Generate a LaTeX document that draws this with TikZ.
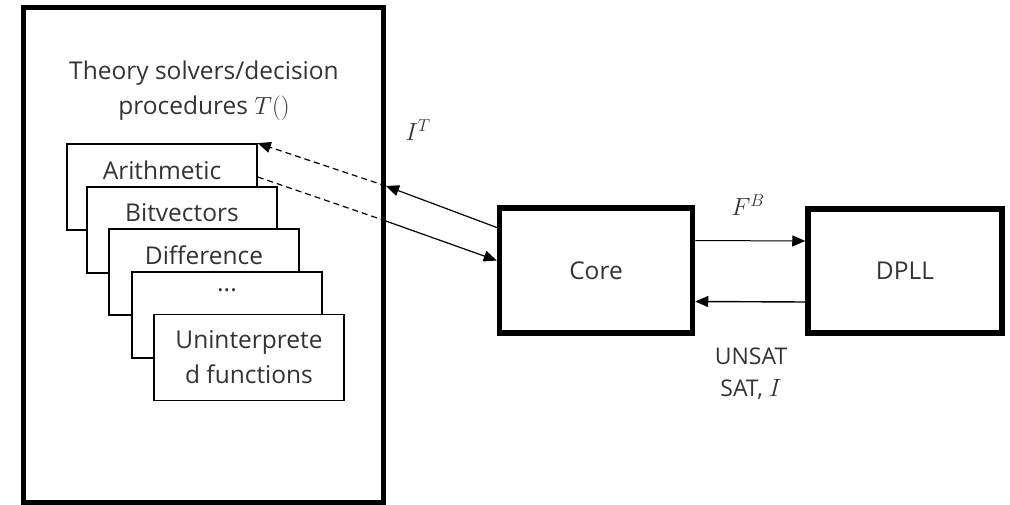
\documentclass[tikz,border=0pt]{standalone}
\usepackage{fontspec}
\setmainfont{Open Sans}
\usetikzlibrary{arrows.meta,positioning}

\tikzset{
	bigbox/.style={draw, line width=5pt, inner sep=0pt},
	stackbox/.style={draw, fill=white, line width=1.6pt, minimum width=190pt, minimum height=86pt, inner sep=0pt},
	stacklabel/.style={anchor=north, yshift=-14pt, font=\fontsize{24.5}{30}\selectfont, text=black!80},
	flow/.style={-{Triangle[length=13pt,width=11pt]}, line width=1.2pt},
	txt/.style={font=\fontsize{24.5}{35}\selectfont, text=black!80, align=center}
}

\begin{document}
\begin{tikzpicture}[x=1pt, y=-1pt]
	\useasboundingbox (0,0) rectangle (1010,505);
	% Container of the theory solvers
	\node[bigbox, minimum width=360pt, minimum height=494pt] at (203,255) (solvers) {};
	\node[txt] at (204,91) (title) {Theory solvers/decision\\procedures $T()$};
	% Stack of solvers
	\node[stackbox, label={[stacklabel]north:Arithmetic}] at (162,187) (arith) {};
	\node[stackbox, label={[stacklabel]north:Bitvectors}] at (182,230) (bitvec) {};
	\node[stackbox, label={[stacklabel]north:Difference}] at (204,272) (diff) {};
	\node[stackbox, label={[stacklabel]north:...}] at (227,315) (dots) {};
	\node[stackbox, txt] at (249,357.5) (uninterp) {Uninterprete\\d functions};
	% Core and DPLL
	\node[bigbox, line width=5.5pt, minimum width=193pt, minimum height=125pt, txt] at (596,270.5) (core) {Core};
	\node[bigbox, line width=5.5pt, minimum width=194pt, minimum height=124pt, txt] at (905,271) (dpll) {DPLL};
	% Crossing points on the container
	\coordinate (edgeIn) at (386,186);
	\coordinate (edgeOut) at (383,220);
	% Connectors
	\draw[flow] ([yshift=43pt]core.west) -- (edgeIn);
	\draw[flow, dashed, dash pattern=on 6pt off 4pt] (edgeIn) -- (arith.north east);
	\draw[line width=1.2pt, dash pattern=on 6pt off 4pt] ([yshift=10pt]arith.east) -- (edgeOut);
	\draw[flow] (edgeOut) -- ([yshift=10pt]core.west);
	\draw[flow, line width=1pt] ([yshift=30pt]core.east) -- ([yshift=30pt]dpll.west);
	\draw[flow, line width=1.4pt] ([yshift=-31pt]dpll.west) -- ([yshift=-31pt]core.east);
	% Labels
	\node[txt, font=\fontsize{26}{30}\selectfont] at (418,130) (it) {$I^T$};
	\node[txt, font=\fontsize{26}{30}\selectfont] at (748,205) (fb) {$F^B$};
	\node[txt, font=\fontsize{23}{32}\selectfont] at (751,374) (result) {UNSAT\\SAT, $I$};
\end{tikzpicture}
\end{document}
